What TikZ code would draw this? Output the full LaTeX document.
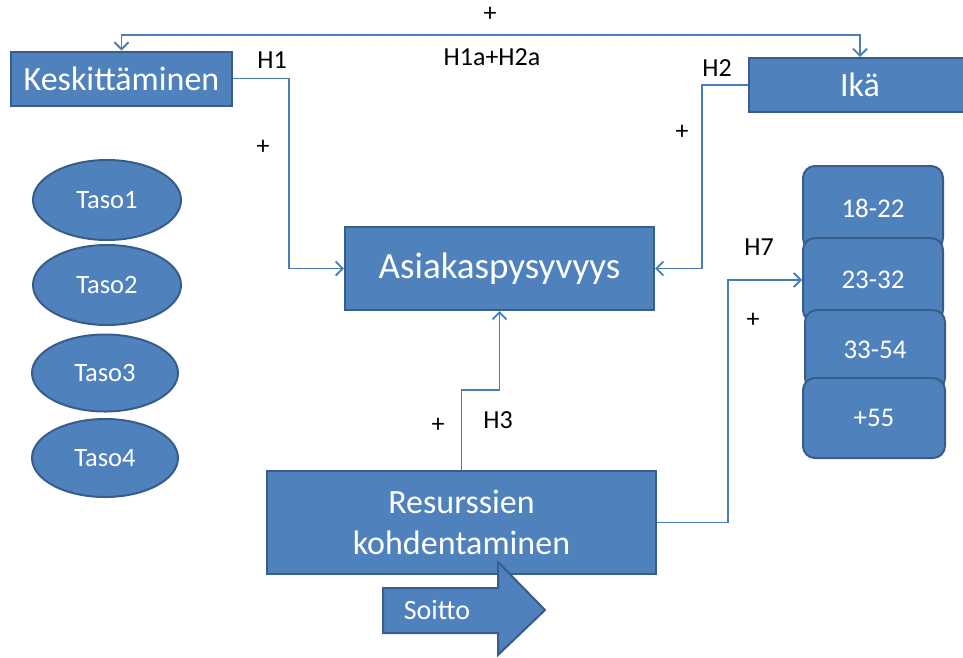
\documentclass[tikz,border=0pt]{standalone}
\usepackage{fontspec}
\setmainfont{Carlito}
\usetikzlibrary{arrows.meta,shapes.geometric}
\definecolor{boxfill}{HTML}{4F81BD}
\definecolor{boxline}{HTML}{385D8A}
\definecolor{connc}{HTML}{4A7EBB}
\tikzset{
  box/.style={draw=boxline, line width=2pt, fill=boxfill, text=white, inner sep=0pt, align=center},
  agebox/.style={box, rounded corners=12pt, font=\fontsize{27}{30}\selectfont},
  tasobox/.style={box, ellipse, font=\fontsize{26.5}{30}\selectfont},
  bigtext/.style={font=\fontsize{34}{41}\selectfont},
  conn/.style={draw=connc, line width=1.9pt, -{Straight Barb[length=7pt,width=14pt]}},
  conn2/.style={draw=connc, line width=1.9pt, {Straight Barb[length=7pt,width=14pt]}-{Straight Barb[length=7pt,width=14pt]}},
  lbl/.style={font=\fontsize{26}{28}\selectfont, text=black, inner sep=0pt}
}
\begin{document}
\begin{tikzpicture}[x=1pt,y=-1pt]
\useasboundingbox (0,0) rectangle (963,657);
% main boxes
\node[box, bigtext, minimum width=221pt, minimum height=54pt] (kesk) at (121.5,78.5) {Keskittäminen};
\node[box, bigtext, minimum width=222pt, minimum height=54pt] (ika) at (860,85) {Ikä};
\node[box, font=\fontsize{37}{40}\selectfont, minimum width=309pt, minimum height=83pt] (asia) at (499.5,268.5) {Asiakaspysyvyys};
\node[box, bigtext, minimum width=389pt, minimum height=103pt] (res) at (461.5,522.5) {Resurssien\\kohdentaminen};
% Soitto arrow
\draw[box] (383,588) -- (498,588) -- (498,562) -- (545,610) -- (498,655) -- (498,633) -- (383,633) -- cycle;
\node[text=white, font=\fontsize{28}{30}\selectfont, inner sep=0pt] (soitto) at (437,610) {Soitto};
% ellipses
\node[tasobox, minimum width=148pt, minimum height=80pt] (t1) at (107,200) {Taso1};
\node[tasobox, minimum width=148pt, minimum height=80pt] (t2) at (107,285) {Taso2};
\node[tasobox, minimum width=146pt, minimum height=77pt] (t3) at (105,373) {Taso3};
\node[tasobox, minimum width=146pt, minimum height=78pt] (t4) at (105,458) {Taso4};
% age boxes
\node[agebox, minimum width=140pt, minimum height=84pt] (a18) at (873,208) {18-22};
\node[agebox, minimum width=140pt, minimum height=84pt] (a23) at (873,280) {23-32};
\node[agebox, minimum width=140pt, minimum height=80pt] (a33) at (875,350) {33-54};
\node[agebox, minimum width=142pt, minimum height=80pt] (a55) at (874,418) {+55};
% helper coordinates
\coordinate (top) at (490,35);
\coordinate (h1) at (289,0);
\coordinate (h2) at (702,0);
\coordinate (h3) at (0,390);
\coordinate (h7) at (728,0);
% connectors
\draw[conn2] (kesk.north) -- (kesk.north |- top) -- (ika.north |- top) -- (ika.north);
\draw[conn] (kesk.east) -- (h1 |- kesk.east) -- (h1 |- asia.west) -- (asia.west);
\draw[conn] (ika.west) -- (h2 |- ika.west) -- (h2 |- asia.east) -- (asia.east);
\draw[conn] (res.north) -- (res.north |- h3) -- (asia.south |- h3) -- (asia.south);
\draw[conn] (res.east) -- (h7 |- res.east) -- (h7 |- a23.west) -- (a23.west);
% labels
\node[lbl] (p0) at (490,14) {+};
\node[lbl] (lh12) at (492,57) {H1a+H2a};
\node[lbl] (lh1) at (272,60) {H1};
\node[lbl] (p1) at (263,147) {+};
\node[lbl] (lh2) at (717,68) {H2};
\node[lbl] (p2) at (682,132) {+};
\node[lbl] (p3) at (438,425) {+};
\node[lbl] (lh3) at (498,420) {H3};
\node[lbl] (lh7) at (759,247) {H7};
\node[lbl] (p7) at (753,320) {+};
\end{tikzpicture}
\end{document}
